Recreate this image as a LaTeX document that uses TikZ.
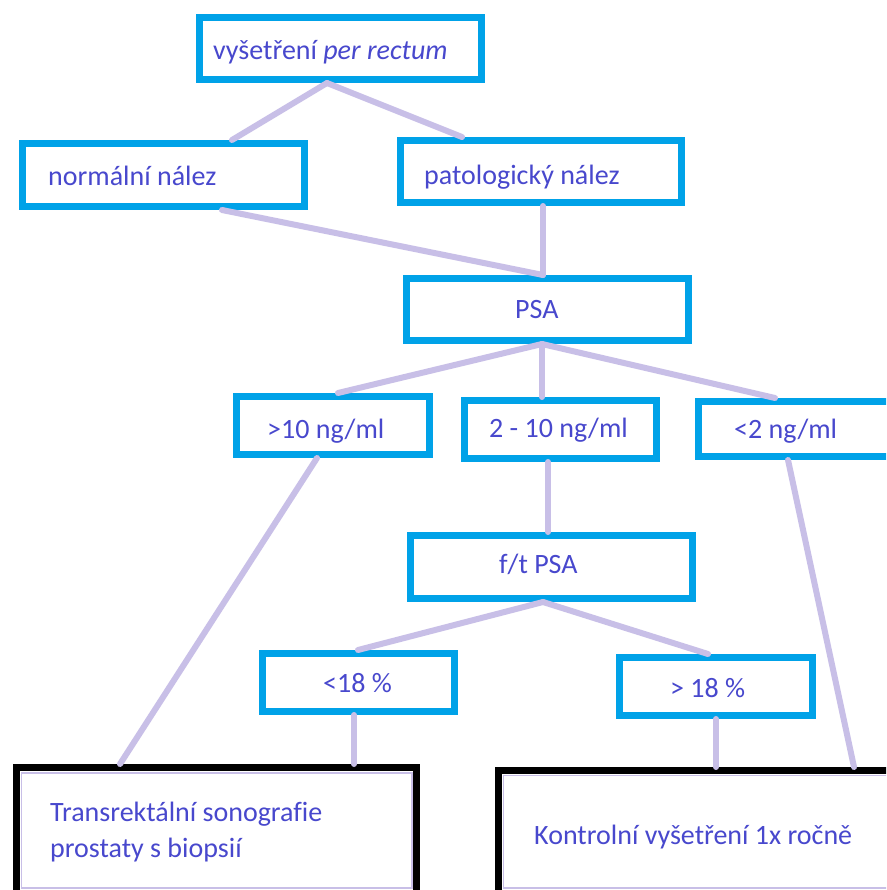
\documentclass[tikz,border=0pt]{standalone}
\usepackage{fontspec}
\setmainfont{Carlito}[Ligatures=NoCommon]
\definecolor{boxblue}{RGB}{0,162,232}
\definecolor{lav}{RGB}{200,191,231}
\definecolor{txtc}{RGB}{72,72,205}
\begin{document}
\begin{tikzpicture}[x=1pt,y=-1pt,
  box/.style={draw=boxblue, line width=7pt, fill=white, rectangle, inner sep=0pt},
  endbox/.style={draw=black, line width=7pt, fill=white, rectangle, inner sep=0pt},
  lbl/.style={anchor=base west, text=txtc, inner sep=0pt, font=\fontsize{28}{34}\selectfont},
  conn/.style={draw=lav, line width=6pt, line cap=round},
  innerline/.style={draw=lav, line width=1.5pt}]
\useasboundingbox (0,0) rectangle (886,890);
\clip (0,0) rectangle (886,890);
\fill[white] (0,0) rectangle (886,890);
% boxes
\node[box, minimum width=282pt, minimum height=62pt] (top) at (340.5,48.5) {};
\node[box, minimum width=282pt, minimum height=63pt] (nor) at (163.5,175) {};
\node[box, minimum width=281pt, minimum height=62pt] (pat) at (541,171.5) {};
\node[box, minimum width=282pt, minimum height=62pt] (psa) at (547.5,309.5) {};
\node[box, minimum width=193pt, minimum height=58pt] (gt10) at (333,425.5) {};
\node[box, minimum width=192pt, minimum height=58pt] (mid) at (560.5,429.5) {};
\node[box, minimum width=300pt, minimum height=55pt] (lt2) at (848.5,429) {};
\node[box, minimum width=282pt, minimum height=63pt] (ft) at (551.5,567) {};
\node[box, minimum width=192pt, minimum height=58pt] (lt18) at (358.5,682.5) {};
\node[box, minimum width=193pt, minimum height=58pt] (gt18) at (716,686.5) {};
\node[endbox, minimum width=400pt, minimum height=142pt] (trs) at (216.5,838.5) {};
\node[endbox, minimum width=500pt, minimum height=140pt] (kon) at (748.5,840.5) {};
\draw[innerline] (21.5,773) rectangle (412,888);
\draw[innerline] (503.5,775.5) rectangle (1000,888);
% texts
\node[lbl] (t1) at (213,60) {vyšetření \textit{per rectum}};
\node[lbl] (t2) at (48,186) {normální nález};
\node[lbl] (t3) at (424,185) {patologický nález};
\node[lbl] (t4) at (515,318) {PSA};
\node[lbl] (t5) at (267,438) {>10 ng/ml};
\node[lbl] (t6) at (489,437.5) {2 - 10 ng/ml};
\node[lbl] (t7) at (734,438) {<2 ng/ml};
\node[lbl] (t8) at (499,573.5) {f/t PSA};
\node[lbl] (t9) at (323,692.5) {<18 \%};
\node[lbl] (t10) at (670,697.5) {> 18 \%};
\node[lbl] (t11) at (50,821.5) {Transrektální sonografie};
\node[lbl] (t12) at (50,857) {prostaty s biopsií};
\node[lbl] (t13) at (534,844) {Kontrolní vyšetření 1x ročně};
% connectors
\draw[conn] ([xshift=-13.5pt]top.south) -- ([xshift=68.5pt]nor.north);
\draw[conn] ([xshift=-13.5pt]top.south) -- ([xshift=-79pt]pat.north);
\draw[conn] ([xshift=58.5pt]nor.south) -- ([xshift=-4.5pt]psa.north);
\draw[conn] ([xshift=2pt]pat.south) -- ([xshift=-4.5pt]psa.north);
\draw[conn] ([xshift=-5.5pt]psa.south) -- ([xshift=5pt]gt10.north);
\draw[conn] ([xshift=-5.5pt]psa.south) -- ([xshift=-18.5pt]mid.north);
\draw[conn] ([xshift=-5.5pt]psa.south) -- ([xshift=80pt]lt2.north west);
\draw[conn] ([xshift=-12.5pt]mid.south) -- ([xshift=-3.5pt]ft.north);
\draw[conn] ([xshift=-8.5pt]ft.south) -- ([xshift=-0.5pt]lt18.north);
\draw[conn] ([xshift=-8.5pt]ft.south) -- ([xshift=-8pt]gt18.north);
\draw[conn] ([xshift=-16pt]gt10.south) -- ([xshift=107pt]trs.north west);
\draw[conn] ([xshift=-4.5pt]lt18.south) -- ([xshift=341pt]trs.north west);
\draw[conn] (gt18.south) -- ([xshift=221pt]kon.north west);
\draw[conn] ([xshift=93pt]lt2.south west) -- ([xshift=359pt]kon.north west);
\end{tikzpicture}
\end{document}
